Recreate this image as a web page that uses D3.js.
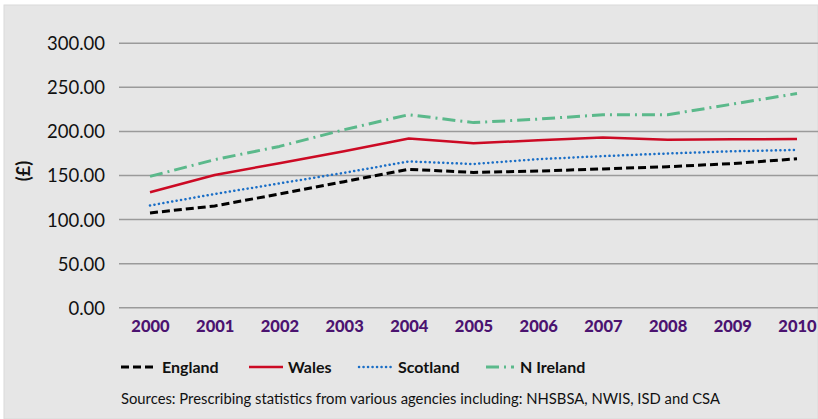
<!DOCTYPE html>
<html>
<head>
<meta charset="utf-8">
<script src="https://cdn.jsdelivr.net/npm/d3@7"></script>
<style>
  html, body { margin: 0; padding: 0; background: #ffffff; }
  svg { display: block; }
</style>
</head>
<body>
<script>
// ---- Data ----
const years = ["2000","2001","2002","2003","2004","2005","2006","2007","2008","2009","2010"];
const england  = [107.5, 115.5, 129, 143, 157, 153.5, 155, 157.5, 160, 163.5, 169];
const wales    = [131, 150.5, 164, 177.5, 192, 186.5, 190, 193, 190.5, 191, 191.5];
const scotland = [116, 129, 141, 153, 166, 163, 168.5, 172, 175, 177.5, 179];
const nIreland = [149, 168, 183, 202, 219, 210, 214, 219, 219, 231, 243];
const yTicks = [0, 50, 100, 150, 200, 250, 300];
const seriesNames = ["England", "Wales", "Scotland", "N Ireland"];
const sourceText = "Sources: Prescribing statistics from various agencies including: NHSBSA, NWIS, ISD and CSA";

const W = 818, H = 419;
const FONT = "Lato, 'Open Sans', sans-serif";

const svg = d3.select("body").append("svg").attr("width", W).attr("height", H);

// background panel
svg.append("rect").attr("x", 4).attr("y", 5).attr("width", W - 4).attr("height", H - 5)
  .attr("fill", "#e6e6e6").attr("stroke", "#dadada").attr("stroke-width", 1);

const x = d3.scalePoint().domain(years).range([150, 797]);
const y = d3.scaleLinear().domain([0, 300]).range([307.7, 43.3]);

// grid lines
const gridLeft = 119, gridRight = 818;
svg.append("g").selectAll("line").data(yTicks).join("line")
  .attr("x1", gridLeft).attr("x2", gridRight)
  .attr("y1", d => y(d)).attr("y2", d => y(d))
  .attr("stroke", "#9a9a9a").attr("stroke-width", 1.5);

// y axis labels
const yAxis = d3.axisLeft(y).tickValues(yTicks).tickFormat(d3.format(".2f")).tickSize(0).tickPadding(0);
const gy = svg.append("g").attr("transform", "translate(105,0)").call(yAxis);
gy.select(".domain").remove();
gy.selectAll("text").attr("font-family", FONT).attr("font-size", 18.5).attr("fill", "#111")
  .attr("dy", "0.35em");

// y axis title
svg.append("text").attr("transform", "translate(23,171) rotate(-90)")
  .attr("text-anchor", "middle").attr("dominant-baseline", "central")
  .attr("font-family", FONT).attr("font-weight", "bold").attr("font-size", 18).attr("fill", "#111")
  .text("(£)");

// x axis labels
const xAxis = d3.axisBottom(x).tickSize(0).tickPadding(0);
const gx = svg.append("g").attr("transform", "translate(0,326)").call(xAxis);
gx.select(".domain").remove();
gx.selectAll("text").attr("font-family", FONT).attr("font-weight", "900").attr("font-size", 16.5)
  .attr("fill", "#4b1370").attr("dy", "0.35em").attr("y", 0);

// series
const series = [
  { name: "England",   values: england,  color: "#000000", width: 3,   dash: "8,4",        cap: "butt" },
  { name: "Wales",     values: wales,    color: "#cc0a24", width: 2.5, dash: null,         cap: "butt" },
  { name: "Scotland",  values: scotland, color: "#1a6ec6", width: 2.5, dash: "0.1,4.4",    cap: "round" },
  { name: "N Ireland", values: nIreland, color: "#5bb98b", width: 3,   dash: "13,5,2,5",   cap: "butt" }
];

const line = d3.line().x((d, i) => x(years[i])).y(d => y(d));
const gLines = svg.append("g");
series.forEach(s => {
  gLines.append("path").datum(s.values)
    .attr("d", line).attr("fill", "none")
    .attr("stroke", s.color).attr("stroke-width", s.width)
    .attr("stroke-dasharray", s.dash).attr("stroke-linecap", s.cap)
    .attr("stroke-linejoin", "round");
});

// legend
const legendPos = [
  { lx1: 121, lx2: 153, tx: 162 },
  { lx1: 249, lx2: 283, tx: 288 },
  { lx1: 359, lx2: 393, tx: 398 },
  { lx1: 486, lx2: 514, tx: 520 }
];
const ly = 367;
const gLeg = svg.append("g");
series.forEach((s, i) => {
  const p = legendPos[i];
  gLeg.append("line").attr("x1", p.lx1).attr("x2", p.lx2).attr("y1", ly).attr("y2", ly)
    .attr("stroke", s.color).attr("stroke-width", s.width)
    .attr("stroke-dasharray", s.dash).attr("stroke-linecap", s.cap);
  gLeg.append("text").attr("x", p.tx).attr("y", ly).attr("dy", "0.35em")
    .attr("font-family", FONT).attr("font-weight", "bold").attr("font-size", 16).attr("fill", "#111")
    .text(seriesNames[i]);
});

// source
svg.append("text").attr("x", 121).attr("y", 404)
  .attr("font-family", FONT).attr("font-size", 14.8).attr("fill", "#111")
  .text(sourceText);
</script>
</body>
</html>
